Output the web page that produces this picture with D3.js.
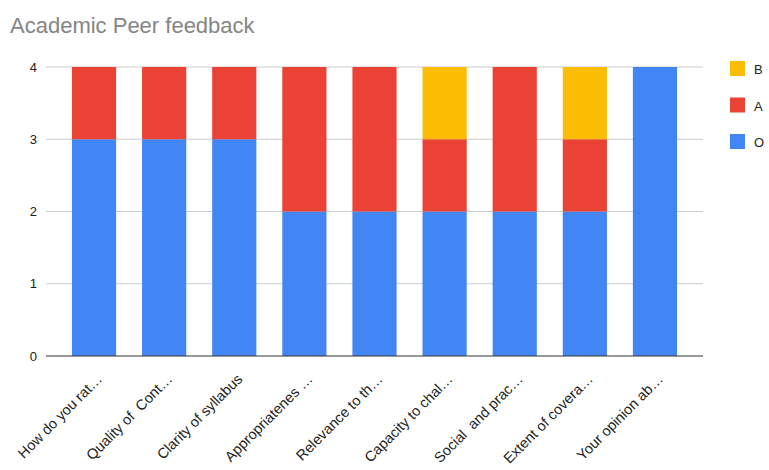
<!DOCTYPE html>
<html>
<head>
<meta charset="utf-8">
<script src="https://cdn.jsdelivr.net/npm/d3@7"></script>
<style>
  body { margin: 0; background: #fff; }
  text { font-family: "Liberation Sans", Arial, sans-serif; white-space: pre; }
</style>
</head>
<body>
<div class="chart"></div>
<script>
const categories = ["How do you rat\u2026", "Quality of  Cont\u2026", "Clarity of syllabus", "Appropriatenes \u2026",
  "Relevance to th\u2026", "Capacity to chal\u2026", "Social  and prac\u2026", "Extent of covera\u2026", "Your opinion ab\u2026"]
const valuesO = [3, 3, 3, 2, 2, 2, 2, 2, 4]
const valuesA = [1, 1, 1, 2, 2, 1, 2, 1, 0]
const valuesB = [0, 0, 0, 0, 0, 1, 0, 1, 0]
const seriesNames = ["O", "A", "B"]
const colors = {O: "#4285f4", A: "#ea4335", B: "#fbbc04"}
const yTicks = [0, 1, 2, 3, 4]

const width = 769, height = 470
const padding = {left: 46, right: 66, top: 67, bottom: 114}

const svg = d3.select(".chart").append("svg").attr("width", width).attr("height", height)

svg.append("text").attr("x", 10).attr("y", 33)
  .attr("font-size", 22).attr("fill", "#858585").text("Academic Peer feedback")

const xScale = d3.scaleBand().domain(categories)
  .range([padding.left, width - padding.right])
  .paddingInner(0.37).paddingOuter(0.37)
const yScale = d3.scaleLinear().domain([0, 4])
  .range([height - padding.bottom, padding.top])

// grid
svg.append("g").selectAll("line").data(yTicks.filter(d => d > 0)).enter().append("line")
  .attr("x1", padding.left).attr("x2", width - padding.right)
  .attr("y1", d => yScale(d)).attr("y2", d => yScale(d))
  .attr("stroke", "#cccccc").attr("stroke-width", 1)

svg.append("g").selectAll("text").data(yTicks).enter().append("text")
  .attr("x", 37).attr("y", d => yScale(d) + 4.5)
  .attr("text-anchor", "end").attr("font-size", 13).attr("fill", "#222")
  .text(d => d)

const table = categories.map((c, i) => ({cat: c, O: valuesO[i], A: valuesA[i], B: valuesB[i]}))
const stacked = d3.stack().keys(seriesNames)(table)

svg.append("g").selectAll("g").data(stacked).enter().append("g")
  .attr("fill", d => colors[d.key])
  .selectAll("rect").data(d => d).enter().append("rect")
  .attr("x", d => xScale(d.data.cat))
  .attr("width", xScale.bandwidth())
  .attr("y", d => yScale(d[1]))
  .attr("height", d => yScale(d[0]) - yScale(d[1]))

// baseline
svg.append("line").attr("x1", padding.left).attr("x2", width - padding.right)
  .attr("y1", yScale(0)).attr("y2", yScale(0)).attr("stroke", "#333").attr("stroke-width", 1)

// x labels
svg.append("g").selectAll("text").data(categories).enter().append("text")
  .attr("transform", d => "translate(" + (xScale(d) + xScale.bandwidth() / 2 + 9) + "," + (yScale(0) + 24) + ") rotate(-45)")
  .attr("text-anchor", "end").attr("font-size", 14.5).attr("fill", "#222")
  .text(d => d)

// legend
const legendKeys = ["B", "A", "O"]
const lg = svg.append("g").selectAll("g").data(legendKeys).enter().append("g")
  .attr("transform", (d, i) => "translate(730," + (61 + i * 36.5) + ")")
lg.append("rect").attr("width", 15).attr("height", 15).attr("fill", d => colors[d])
lg.append("text").attr("x", 24).attr("y", 13).attr("font-size", 13).attr("fill", "#222").text(d => d)
</script>
</body>
</html>
